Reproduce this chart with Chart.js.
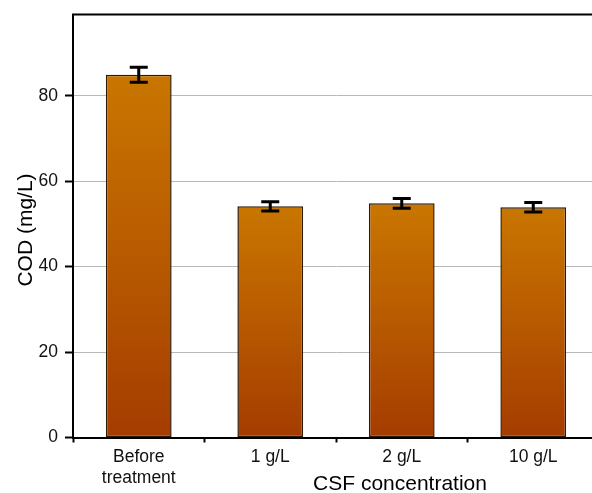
<!DOCTYPE html>
<html>
<head>
<meta charset="utf-8">
<script src="https://cdn.jsdelivr.net/npm/chart.js@4.4.1/dist/chart.umd.min.js"></script>
<style>
  html, body { margin: 0; padding: 0; overflow: hidden; background: #fff; }
  #wrap { width: 592px; height: 493px; overflow: hidden; }
  canvas { display: block; }
</style>
</head>
<body>
<div id="wrap"><canvas id="c" width="620" height="493"></canvas></div>
<script>
// COD measured before treatment and after adding CSF at three doses
const categories = [['Before', 'treatment'], '1 g/L', '2 g/L', '10 g/L'];
const codValues = [84.9, 54.1, 54.8, 53.9];
const codErrors = [1.75, 1.1, 1.15, 1.1];
const yTicks = [0, 20, 40, 60, 80];
const yMax = 99;
const xTitle = 'CSF concentration';
const yTitle = 'COD (mg/L)';

const FONT = '"Liberation Sans", Arial, Helvetica, sans-serif';

// vertical orange-to-rust gradient spanning each bar from its top to zero
function barGradient(ctx) {
  const chart = ctx.chart;
  const ys = chart.scales.y;
  if (!chart.chartArea || !ys || ctx.type !== 'data') return '#bb5e00';
  const top = ys.getPixelForValue(ctx.raw);
  const bottom = ys.getPixelForValue(0);
  if (!isFinite(top) || !isFinite(bottom) || top === bottom) return '#bb5e00';
  const g = chart.ctx.createLinearGradient(0, top, 0, bottom);
  g.addColorStop(0, '#c97600');
  g.addColorStop(0.5, '#b85a00');
  g.addColorStop(1, '#a43c00');
  return g;
}

const errorBars = {
  id: 'errorBars',
  afterDatasetsDraw(chart) {
    const ctx = chart.ctx;
    const ys = chart.scales.y;
    const meta = chart.getDatasetMeta(0);
    ctx.save();
    ctx.strokeStyle = '#000';
    ctx.lineWidth = 3;
    meta.data.forEach((bar, i) => {
      const x = bar.x;
      const hi = ys.getPixelForValue(codValues[i] + codErrors[i]);
      const lo = ys.getPixelForValue(codValues[i] - codErrors[i]);
      const half = 9;
      ctx.beginPath();
      ctx.moveTo(x, hi); ctx.lineTo(x, lo);
      ctx.moveTo(x - half, hi); ctx.lineTo(x + half, hi);
      ctx.moveTo(x - half, lo); ctx.lineTo(x + half, lo);
      ctx.stroke();
    });
    ctx.restore();
  }
};

const frameAndTitles = {
  id: 'frameAndTitles',
  afterDraw(chart) {
    const ctx = chart.ctx;
    const a = chart.chartArea;
    ctx.save();
    // top frame line
    ctx.strokeStyle = '#000';
    ctx.lineWidth = 2;
    ctx.beginPath();
    ctx.moveTo(a.left - 1, a.top);
    ctx.lineTo(chart.width, a.top);
    ctx.stroke();
    // axis titles
    ctx.fillStyle = '#000';
    ctx.font = '21px ' + FONT;
    ctx.textAlign = 'center';
    ctx.textBaseline = 'alphabetic';
    ctx.fillText(xTitle, 400, 490);
    ctx.translate(32, 230);
    ctx.rotate(-Math.PI / 2);
    ctx.fillText(yTitle, 0, 0);
    ctx.restore();
  }
};

new Chart(document.getElementById('c'), {
  type: 'bar',
  data: {
    labels: categories,
    datasets: [{
      data: codValues,
      backgroundColor: barGradient,
      borderColor: '#2e1a04',
      borderWidth: 1.5,
      borderSkipped: false,
      barPercentage: 0.5,
      categoryPercentage: 1.0
    }]
  },
  options: {
    responsive: false,
    devicePixelRatio: 1,
    animation: false,
    layout: { padding: { top: 14.5, right: 21, left: 0, bottom: 0 } },
    plugins: { legend: { display: false }, tooltip: { enabled: false } },
    scales: {
      x: {
        offset: true,
        afterFit(scale) { scale.height = 55.5; },
        grid: {
          offset: true,
          drawOnChartArea: false,
          drawTicks: true,
          tickLength: 5,
          tickColor: '#000',
          tickWidth: 2
        },
        border: { display: true, color: '#000', width: 2 },
        ticks: {
          color: '#111',
          font: { family: FONT, size: 17.5, lineHeight: 1.2 },
          padding: 4,
          maxRotation: 0,
          autoSkip: false
        }
      },
      y: {
        min: 0,
        max: yMax,
        afterFit(scale) {
          scale.width = 73;
          scale.paddingTop = 0;
          scale.paddingBottom = 0;
        },
        afterBuildTicks(scale) { scale.ticks = yTicks.map(v => ({ value: v })); },
        grid: {
          color: ctx => (ctx.tick && ctx.tick.value === 0) ? 'rgba(0,0,0,0)' : '#b8b8b8',
          lineWidth: 1,
          drawTicks: true,
          tickLength: 8,
          tickColor: '#000',
          tickWidth: 2
        },
        border: { display: true, color: '#000', width: 2 },
        ticks: {
          color: '#111',
          font: { family: FONT, size: 17.5 },
          padding: 7
        }
      }
    }
  },
  plugins: [errorBars, frameAndTitles]
});
</script>
</body>
</html>
